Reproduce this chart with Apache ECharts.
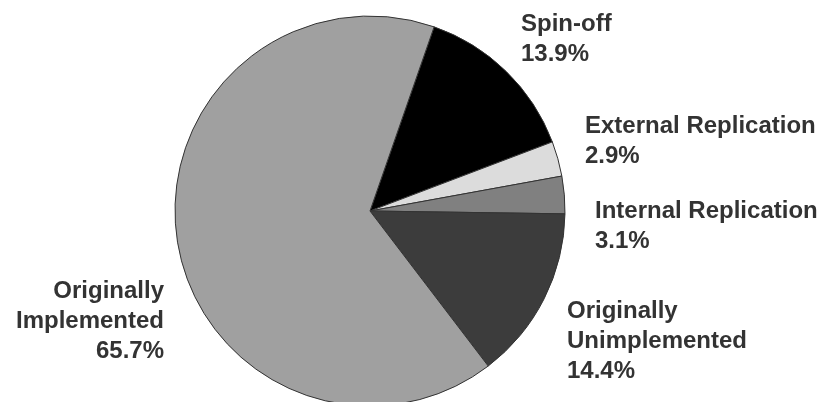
<!DOCTYPE html>
<html>
<head>
<meta charset="utf-8">
<script src="https://cdn.jsdelivr.net/npm/echarts@6/dist/echarts.min.js"></script>
<style>html,body{margin:0;padding:0;background:#fff;}#c{width:835px;height:402px;}</style>
</head>
<body>
<div id="c"></div>
<script>
const categories = ['Spin-off', 'External Replication', 'Internal Replication', 'Originally Unimplemented', 'Originally Implemented'];
const labelTexts = ['Spin-off', 'External Replication', 'Internal Replication', 'Originally\nUnimplemented', 'Originally\nImplemented'];
const values = [13.9, 2.9, 3.1, 14.4, 65.7];
const colors = ['#000000', '#dcdcdc', '#808080', '#3c3c3c', '#a0a0a0'];
// label anchor positions (layout only)
const labelPos = [
  {x: 521, y: 9, align: 'left'},
  {x: 585, y: 111, align: 'left'},
  {x: 595, y: 196, align: 'left'},
  {x: 567, y: 296, align: 'left'},
  {x: 164, y: 276, align: 'right'}
];

const chart = echarts.init(document.getElementById('c'));
chart.setOption({
  backgroundColor: '#ffffff',
  animation: false,
  series: [{
    type: 'pie',
    center: [370, 211],
    radius: [0, 195],
    startAngle: 70.8,
    clockwise: true,
    avoidLabelOverlap: false,
    data: categories.map((c, i) => ({
      name: c,
      value: values[i],
      itemStyle: {color: colors[i]},
      label: {align: labelPos[i].align}
    })),
    itemStyle: {borderColor: '#333333', borderWidth: 1},
    label: {
      show: true,
      position: 'outside',
      formatter: p => labelTexts[p.dataIndex] + '\n' + values[p.dataIndex].toFixed(1) + '%',
      fontFamily: 'Liberation Sans, Arial, sans-serif',
      fontWeight: 'bold',
      fontSize: 24,
      lineHeight: 30,
      color: '#333333'
    },
    labelLine: {show: false},
    labelLayout: function (params) {
      const p = labelPos[params.dataIndex];
      return {x: p.x, y: p.y, align: p.align, verticalAlign: 'top'};
    },
    emphasis: {disabled: true}
  }]
});
</script>
</body>
</html>
